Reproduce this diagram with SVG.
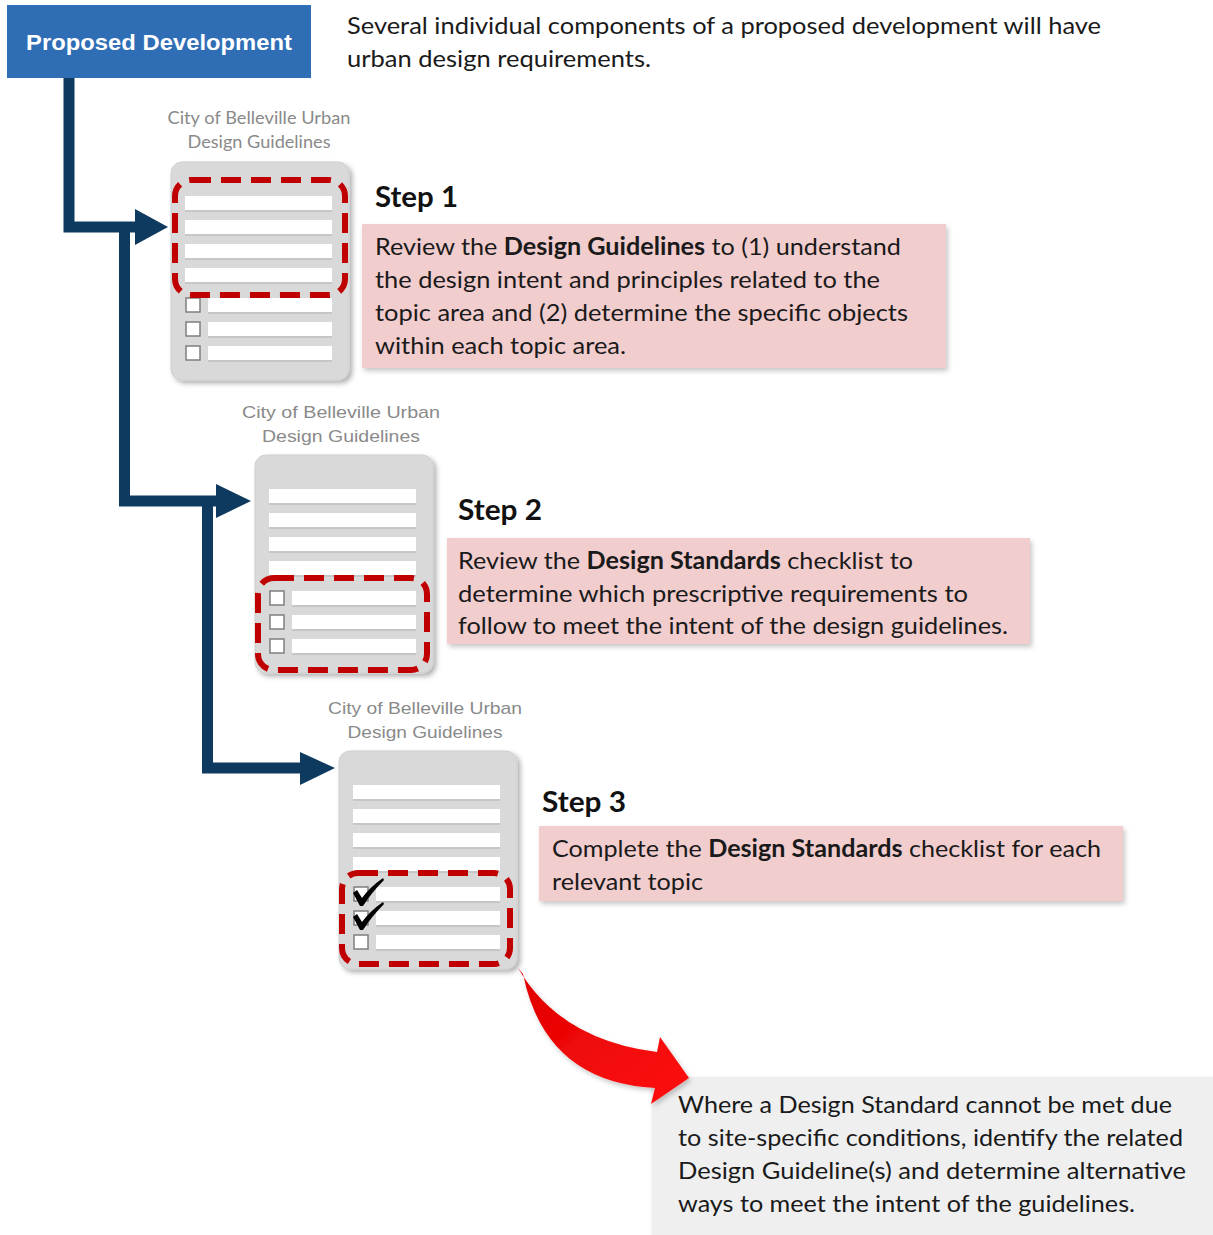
<svg xmlns="http://www.w3.org/2000/svg" width="1213" height="1235" viewBox="0 0 1213 1235">
<defs>
<filter id="sh" x="-10%" y="-10%" width="125%" height="125%">
<feDropShadow dx="3" dy="3" stdDeviation="2.5" flood-color="#000" flood-opacity="0.3"/>
</filter>
<filter id="shs" x="-10%" y="-10%" width="125%" height="125%">
<feDropShadow dx="2" dy="3" stdDeviation="2.5" flood-color="#000" flood-opacity="0.22"/>
</filter>
<linearGradient id="redg" x1="0" y1="0" x2="1" y2="1">
<stop offset="0" stop-color="#e00000"/>
<stop offset="1" stop-color="#ff1010"/>
</linearGradient>
<g id="doc">
<rect x="0" y="0" width="178" height="218" rx="11" fill="#d9d9d9" stroke="#cfcfcf" stroke-width="1"/>
<rect x="14" y="36" width="147" height="14" fill="#c6c6c6"/>
<rect x="14" y="60" width="147" height="14" fill="#c6c6c6"/>
<rect x="14" y="84" width="147" height="14" fill="#c6c6c6"/>
<rect x="14" y="108" width="147" height="14" fill="#c6c6c6"/>
<rect x="14" y="34" width="147" height="14" fill="#fff"/>
<rect x="14" y="58" width="147" height="14" fill="#fff"/>
<rect x="14" y="82" width="147" height="14" fill="#fff"/>
<rect x="14" y="106" width="147" height="14" fill="#fff"/>
<rect x="37" y="138" width="124" height="14" fill="#c6c6c6"/>
<rect x="37" y="162" width="124" height="14" fill="#c6c6c6"/>
<rect x="37" y="186" width="124" height="14" fill="#c6c6c6"/>
<rect x="37" y="136" width="124" height="14" fill="#fff"/>
<rect x="37" y="160" width="124" height="14" fill="#fff"/>
<rect x="37" y="184" width="124" height="14" fill="#fff"/>
<rect x="15" y="136" width="14" height="14" fill="#fff" stroke="#7f7f7f" stroke-width="1.5"/>
<rect x="15" y="160" width="14" height="14" fill="#fff" stroke="#7f7f7f" stroke-width="1.5"/>
<rect x="15" y="184" width="14" height="14" fill="#fff" stroke="#7f7f7f" stroke-width="1.5"/>
</g>
</defs>
<style>
.body{font-family:Lato,"Open Sans","Liberation Sans",sans-serif;font-size:24px;fill:#1a1a1a}
.b{font-weight:bold}
.step{font-family:Lato,"Open Sans","Liberation Sans",sans-serif;font-size:29px;font-weight:bold;fill:#111}
.cap{font-family:"Liberation Sans",Arial,sans-serif;font-size:17px;fill:#8a8a8a}
.cap1{font-family:Lato,"Open Sans",sans-serif;font-size:17px;fill:#8a8a8a}
.dash{fill:none;stroke:#c00000;stroke-width:6;stroke-dasharray:20 10}
.conn{fill:none;stroke:#0f3a5f;stroke-width:11}
.head{fill:#0f3a5f}
.pink{fill:#f2cdce}
</style>

<g id="note">
<rect x="652" y="1077" width="561" height="158" fill="#efefef" filter="url(#shs)"/>
<text class="body" x="678" y="1113" textLength="494" lengthAdjust="spacingAndGlyphs">Where a Design Standard cannot be met due</text>
<text class="body" x="678" y="1146" textLength="505" lengthAdjust="spacingAndGlyphs">to site-specific  conditions, identify the related</text>
<text class="body" x="678" y="1179" textLength="508" lengthAdjust="spacingAndGlyphs">Design Guideline(s)  and determine alternative</text>
<text class="body" x="678" y="1212" textLength="457" lengthAdjust="spacingAndGlyphs">ways to meet the intent of the guidelines.</text>
</g>

<g id="connectors">
<path class="conn" d="M69,78 V227 H137"/>
<polygon class="head" points="135,209 168,227 135,245"/>
<path class="conn" d="M124.5,227 V501 H218"/>
<polygon class="head" points="216,484 251,501 216,518"/>
<path class="conn" d="M207.5,501 V768 H302"/>
<polygon class="head" points="300,752 335,768 300,785"/>
<path d="M518,968 Q560,1040 657,1052 L660,1037 L689,1078 L651,1104 L655,1088 Q545,1082 523,974 Z" fill="url(#redg)" filter="url(#shs)"/>
</g>

<g id="proposed">
<rect x="7" y="5" width="304" height="73" fill="#2f6db5"/>
<text x="159" y="50" text-anchor="middle" font-family="'Liberation Sans',Arial,sans-serif" font-size="22.5" font-weight="bold" fill="#fff" textLength="266" lengthAdjust="spacingAndGlyphs">Proposed Development</text>
</g>

<g id="intro">
<text class="body" x="347" y="34" textLength="754" lengthAdjust="spacingAndGlyphs">Several individual components of a proposed development will have</text>
<text class="body" x="347" y="67" textLength="304" lengthAdjust="spacingAndGlyphs">urban design requirements.</text>
</g>

<g id="doc1">
<text class="cap1" x="259" y="124" text-anchor="middle" textLength="183" lengthAdjust="spacingAndGlyphs">City of Belleville Urban</text>
<text class="cap1" x="259" y="148" text-anchor="middle" textLength="143" lengthAdjust="spacingAndGlyphs">Design Guidelines</text>
<use href="#doc" x="171" y="162" filter="url(#sh)"/>
<rect class="dash" x="175" y="180" width="170" height="115" rx="16"/>
</g>

<g id="step1">
<text class="step" x="375" y="207" textLength="83" lengthAdjust="spacingAndGlyphs">Step 1</text>
<rect class="pink" x="362" y="224" width="584" height="144" filter="url(#shs)"/>
<text class="body" x="375" y="255" textLength="526" lengthAdjust="spacingAndGlyphs">Review the <tspan class="b">Design Guidelines</tspan> to (1) understand</text>
<text class="body" x="375" y="288" textLength="505" lengthAdjust="spacingAndGlyphs">the design intent and principles related to the</text>
<text class="body" x="375" y="321" textLength="533" lengthAdjust="spacingAndGlyphs">topic area and (2) determine the specific objects</text>
<text class="body" x="375" y="354" textLength="251" lengthAdjust="spacingAndGlyphs">within each topic area.</text>
</g>

<g id="doc2">
<text class="cap" x="341" y="418" text-anchor="middle" textLength="198" lengthAdjust="spacingAndGlyphs">City of Belleville  Urban</text>
<text class="cap" x="341" y="442" text-anchor="middle" textLength="158" lengthAdjust="spacingAndGlyphs">Design Guidelines</text>
<use href="#doc" x="255" y="455" filter="url(#sh)"/>
<rect class="dash" x="258" y="578" width="169" height="92" rx="16"/>
</g>

<g id="step2">
<text class="step" x="458" y="520" textLength="84" lengthAdjust="spacingAndGlyphs">Step 2</text>
<rect class="pink" x="447" y="538" width="583" height="106" filter="url(#shs)"/>
<text class="body" x="458" y="569" textLength="455" lengthAdjust="spacingAndGlyphs">Review the <tspan class="b">Design Standards</tspan> checklist to</text>
<text class="body" x="458" y="602" textLength="510" lengthAdjust="spacingAndGlyphs">determine which prescriptive requirements to</text>
<text class="body" x="458" y="634" textLength="550" lengthAdjust="spacingAndGlyphs">follow to meet the intent of the design guidelines.</text>
</g>

<g id="doc3">
<text class="cap" x="425" y="714" text-anchor="middle" textLength="194" lengthAdjust="spacingAndGlyphs">City of Belleville  Urban</text>
<text class="cap" x="425" y="738" text-anchor="middle" textLength="155" lengthAdjust="spacingAndGlyphs">Design Guidelines</text>
<use href="#doc" x="339" y="751" filter="url(#sh)"/>
<path d="M353,893 L357,890 L362,898 Q370,887 383,878 L384,880 Q372,892 363,906 L360,906 Z" fill="#000"/>
<path d="M353,917 L357,914 L362,922 Q370,911 383,902 L384,904 Q372,916 363,930 L360,930 Z" fill="#000"/>
<rect class="dash" x="342" y="873" width="168" height="91" rx="16"/>
</g>

<g id="step3">
<text class="step" x="542" y="812" textLength="84" lengthAdjust="spacingAndGlyphs">Step 3</text>
<rect class="pink" x="539" y="826" width="584" height="75" filter="url(#shs)"/>
<text class="body" x="552" y="857" textLength="549" lengthAdjust="spacingAndGlyphs">Complete the <tspan class="b">Design Standards</tspan> checklist for each</text>
<text class="body" x="552" y="890" textLength="151" lengthAdjust="spacingAndGlyphs">relevant topic</text>
</g>
</svg>
